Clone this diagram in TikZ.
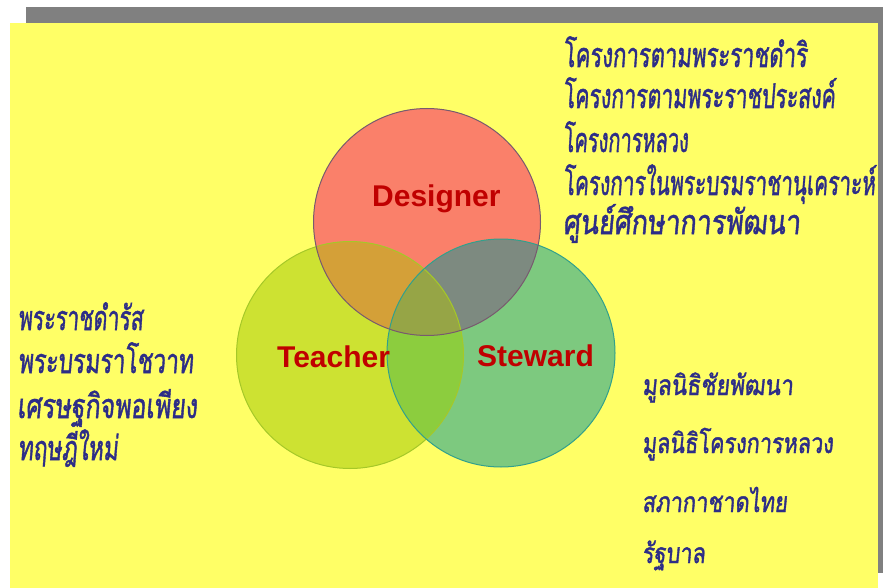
\documentclass[tikz,border=0pt]{standalone}
\usepackage{fontspec}
\usepackage{graphicx}
\setmainfont{Liberation Sans}
\newfontfamily\thaifont[Script=Thai, FakeBold=1.6, FakeSlant=0.12]{Loma}
\definecolor{bgyellow}{RGB}{255,255,102}
\definecolor{shadowgray}{RGB}{128,128,128}
\definecolor{cD}{RGB}{250,128,106}
\definecolor{cT}{RGB}{205,226,50}
\definecolor{cS}{RGB}{125,201,127}
\definecolor{cDT}{RGB}{212,160,56}
\definecolor{cDS}{RGB}{125,138,128}
\definecolor{cTS}{RGB}{140,205,62}
\definecolor{cDTS}{RGB}{150,165,70}
\definecolor{lD}{RGB}{120,90,110}
\definecolor{lT}{RGB}{165,200,40}
\definecolor{lS}{RGB}{50,160,140}
\definecolor{thaiblue}{RGB}{45,45,135}
\definecolor{labelred}{RGB}{192,0,0}
\newcommand{\thl}[2]{\resizebox{#1}{\height}{\thaifont #2}}
\tikzset{
  thaitext/.style={anchor=base west, inner sep=0pt, text=thaiblue, font=\fontsize{34}{38}\selectfont},
  thaismall/.style={thaitext, font=\fontsize{28}{32}\selectfont},
  roletext/.style={anchor=base west, inner sep=0pt, text=labelred, font=\fontsize{30}{34}\selectfont\bfseries},
}
\begin{document}
\begin{tikzpicture}[x=1pt,y=-1pt]
\useasboundingbox (0,0) rectangle (883,588);
\fill[white] (0,0) rectangle (883,588);
\fill[shadowgray] (26,7) rectangle (883,573);
\fill[bgyellow] (10,23) rectangle (878,588);
% circles
\def\Dc{(427,222) circle (113.5)}
\def\Tc{(350,355) circle (113.5)}
\def\Sc{(501,353) circle (114)}
\fill[cD] \Dc;
\fill[cT] \Tc;
\fill[cS] \Sc;
\begin{scope}\clip \Dc; \fill[cDT] \Tc; \end{scope}
\begin{scope}\clip \Dc; \fill[cDS] \Sc; \end{scope}
\begin{scope}\clip \Tc; \fill[cTS] \Sc; \end{scope}
\begin{scope}\clip \Dc; \clip \Tc; \fill[cDTS] \Sc; \end{scope}
\draw[lT, line width=1pt] \Tc;
\draw[lS, line width=1pt] \Sc;
\draw[lD, line width=1pt] \Dc;
% role labels
\node[roletext] (designer) at (372,207) {Designer};
\node[roletext] (teacher) at (277,367) {Teacher};
\node[roletext] (steward) at (477,366) {Steward};
% top right list
\node[thaitext] (tr1) at (563,67) {\thl{244pt}{โครงการตามพระราชดำริ}};
\node[thaitext] (tr2) at (563,108) {\thl{272pt}{โครงการตามพระราชประสงค์}};
\node[thaitext] (tr3) at (563,152) {\thl{125pt}{โครงการหลวง}};
\node[thaitext] (tr4) at (563,195) {\thl{312pt}{โครงการในพระบรมราชานุเคราะห์}};
\node[thaitext] (tr5) at (563,234) {\thl{237pt}{ศูนย์ศึกษาการพัฒนา}};
% left list
\node[thaitext] (l1) at (18,330) {\thl{125pt}{พระราชดำรัส}};
\node[thaitext] (l2) at (18,373) {\thl{175pt}{พระบรมราโชวาท}};
\node[thaitext] (l3) at (17,418) {\thl{180pt}{เศรษฐกิจพอเพียง}};
\node[thaitext] (l4) at (18,460) {\thl{100pt}{ทฤษฎีใหม่}};
% bottom right list
\node[thaismall] (br1) at (642,395) {\thl{151pt}{มูลนิธิชัยพัฒนา}};
\node[thaismall] (br2) at (642,453) {\thl{191pt}{มูลนิธิโครงการหลวง}};
\node[thaismall] (br3) at (642,512) {\thl{145pt}{สภากาชาดไทย}};
\node[thaismall] (br4) at (642,563) {\thl{63pt}{รัฐบาล}};
\end{tikzpicture}
\end{document}
